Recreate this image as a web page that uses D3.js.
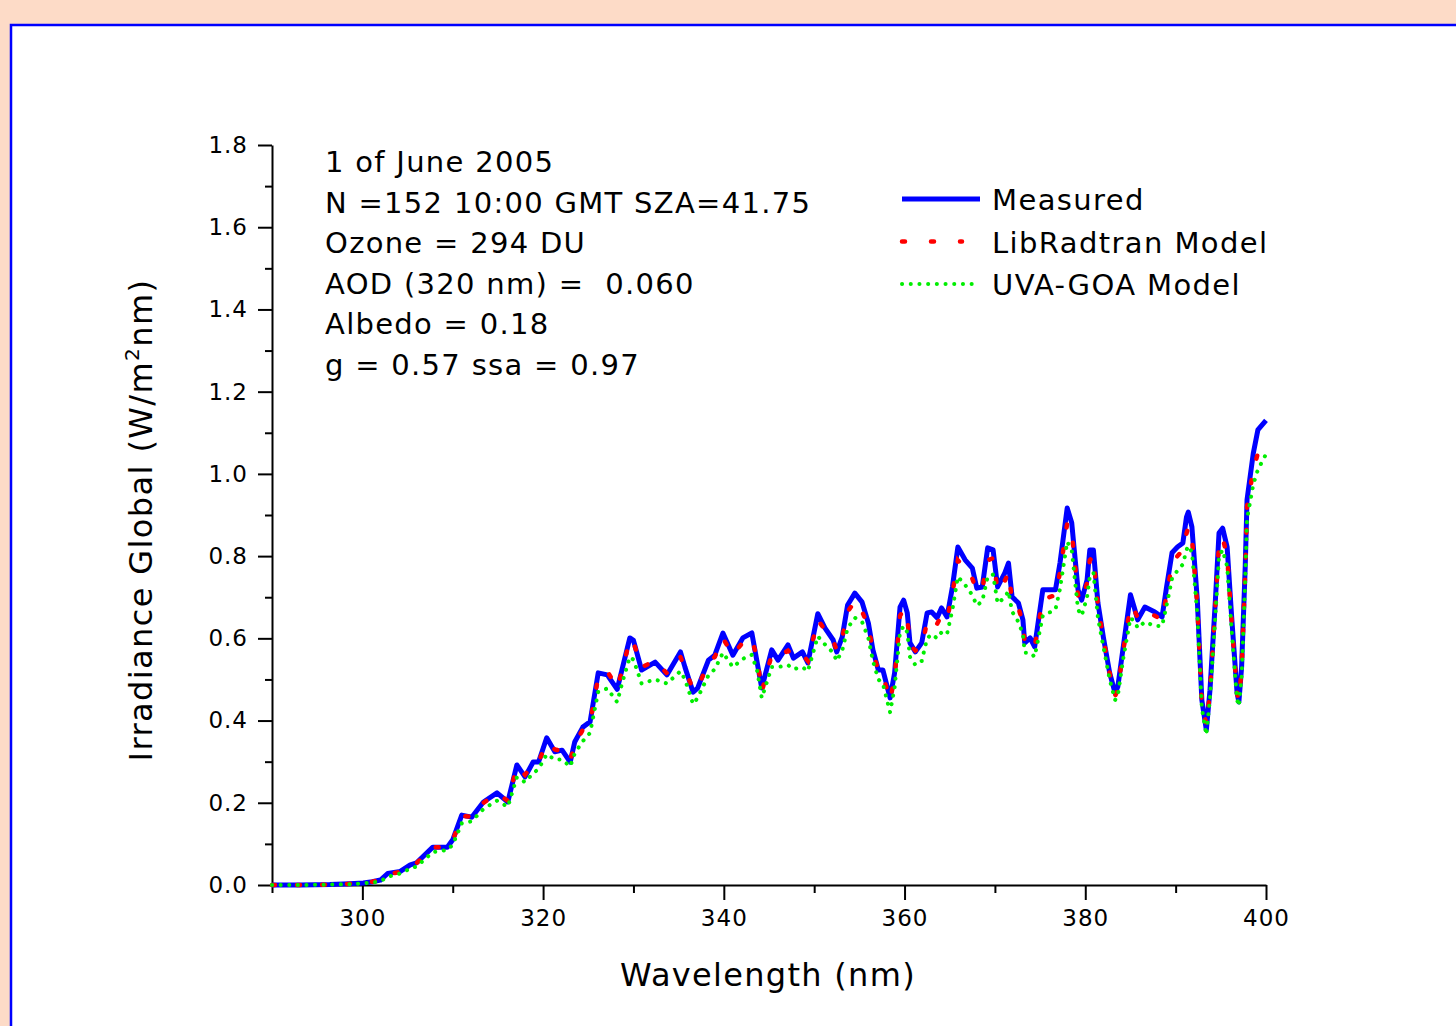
<!DOCTYPE html>
<html>
<head>
<meta charset="utf-8">
<script src="https://cdn.jsdelivr.net/npm/d3@7"></script>
<style>
  html, body { margin: 0; padding: 0; background: #fddbc7; }
  svg { display: block; }
  svg text { font-family: "DejaVu Sans", Verdana, sans-serif; fill: #000; }
  .axis path, .axis line { stroke: #000; stroke-width: 2; }
  .axis text { font-family: "DejaVu Sans", Verdana, sans-serif; font-size: 23px; letter-spacing: 1px; }
</style>
</head>
<body>
<div class="chart"></div>
<script>
// ============================================================================
// Data
// ============================================================================

var wavelength = [
  290.0, 293.1, 296.4, 298.6, 300.1, 301.1, 302.0, 302.8, 304.2, 305.3,
  306.0, 307.8, 309.4, 310.0, 311.0, 312.1, 313.4, 314.9, 316.1, 317.1,
  318.0, 318.9, 319.5, 320.4, 321.3, 322.1, 323.0, 323.5, 324.4, 325.2,
  326.1, 327.1, 328.2, 328.8, 329.6, 330.0, 330.9, 332.4, 333.7, 335.2,
  335.7, 336.6, 337.1, 338.3, 339.0, 339.9, 341.0, 342.1, 343.1, 343.7,
  344.2, 345.3, 346.0, 347.1, 347.7, 348.7, 349.3, 350.4, 351.2, 352.1,
  352.5, 353.1, 353.7, 354.5, 355.3, 356.0, 356.5, 357.1, 357.6, 358.4,
  358.9, 359.5, 359.9, 360.3, 360.6, 361.2, 361.9, 362.5, 363.0, 363.6,
  364.1, 364.7, 365.3, 365.9, 366.7, 367.5, 368.0, 368.6, 369.2, 369.8,
  370.3, 371.1, 371.5, 371.9, 372.6, 373.1, 373.3, 373.9, 374.4, 375.3,
  376.7, 377.2, 378.0, 378.5, 379.2, 379.6, 380.2, 380.5, 380.9, 381.4,
  382.0, 382.7, 383.3, 383.6, 384.2, 385.0, 385.5, 385.8, 386.6, 387.7,
  388.5, 389.0, 389.6, 390.2, 390.8, 391.2, 391.4, 391.8, 392.4, 392.9,
  393.4, 393.8, 394.4, 394.8, 395.2, 395.7, 396.2, 396.8, 397.0, 397.3,
  397.7, 397.9, 398.6, 399.1, 400.0
];

var measured = [
  0.000, 0.000, 0.001, 0.003, 0.005, 0.008, 0.012, 0.028, 0.033, 0.049,
  0.054, 0.092, 0.092, 0.110, 0.170, 0.165, 0.202, 0.224, 0.202, 0.292,
  0.263, 0.299, 0.299, 0.358, 0.324, 0.328, 0.299, 0.348, 0.384, 0.397,
  0.516, 0.511, 0.476, 0.530, 0.601, 0.595, 0.523, 0.542, 0.511, 0.567,
  0.530, 0.469, 0.479, 0.547, 0.559, 0.613, 0.559, 0.601, 0.613, 0.540,
  0.479, 0.572, 0.547, 0.584, 0.552, 0.567, 0.540, 0.660, 0.625, 0.596,
  0.567, 0.603, 0.681, 0.710, 0.688, 0.637, 0.572, 0.523, 0.523, 0.455,
  0.516, 0.676, 0.693, 0.662, 0.589, 0.567, 0.589, 0.662, 0.664, 0.650,
  0.674, 0.652, 0.725, 0.822, 0.791, 0.771, 0.722, 0.725, 0.820, 0.815,
  0.725, 0.759, 0.783, 0.701, 0.686, 0.645, 0.589, 0.601, 0.579, 0.718,
  0.718, 0.783, 0.917, 0.881, 0.718, 0.693, 0.742, 0.815, 0.815, 0.686,
  0.603, 0.516, 0.467, 0.482, 0.579, 0.706, 0.669, 0.645, 0.676, 0.664,
  0.652, 0.725, 0.808, 0.822, 0.832, 0.895, 0.907, 0.871, 0.693, 0.450,
  0.377, 0.474, 0.693, 0.856, 0.868, 0.822, 0.652, 0.467, 0.445, 0.530,
  0.774, 0.937, 1.051, 1.107, 1.130
];

var libRadtran = [
  0.000, 0.000, 0.001, 0.003, 0.005, 0.008, 0.013, 0.026, 0.032, 0.048,
  0.053, 0.092, 0.092, 0.108, 0.168, 0.166, 0.200, 0.222, 0.205, 0.288,
  0.268, 0.294, 0.300, 0.345, 0.330, 0.325, 0.302, 0.342, 0.378, 0.395,
  0.505, 0.520, 0.480, 0.525, 0.598, 0.590, 0.530, 0.545, 0.515, 0.555,
  0.525, 0.475, 0.480, 0.540, 0.555, 0.600, 0.560, 0.590, 0.600, 0.550,
  0.470, 0.560, 0.555, 0.570, 0.555, 0.560, 0.545, 0.645, 0.620, 0.595,
  0.570, 0.600, 0.665, 0.690, 0.665, 0.630, 0.570, 0.520, 0.510, 0.450,
  0.505, 0.655, 0.670, 0.650, 0.585, 0.570, 0.580, 0.640, 0.650, 0.635,
  0.655, 0.645, 0.710, 0.790, 0.770, 0.745, 0.715, 0.720, 0.790, 0.795,
  0.715, 0.740, 0.760, 0.695, 0.675, 0.635, 0.590, 0.595, 0.580, 0.695,
  0.705, 0.760, 0.880, 0.860, 0.705, 0.690, 0.735, 0.790, 0.800, 0.680,
  0.600, 0.515, 0.460, 0.475, 0.570, 0.680, 0.665, 0.650, 0.665, 0.655,
  0.645, 0.705, 0.780, 0.800, 0.815, 0.855, 0.870, 0.845, 0.680, 0.440,
  0.390, 0.470, 0.680, 0.830, 0.845, 0.800, 0.640, 0.465, 0.450, 0.525,
  0.760, 0.920, 1.010, 1.050, 1.080
];

var uvaGoa = [
  0.000, 0.000, 0.001, 0.002, 0.004, 0.006, 0.009, 0.020, 0.028, 0.040,
  0.045, 0.080, 0.085, 0.098, 0.150, 0.155, 0.185, 0.205, 0.190, 0.262,
  0.250, 0.272, 0.282, 0.318, 0.305, 0.305, 0.288, 0.320, 0.350, 0.370,
  0.470, 0.478, 0.445, 0.495, 0.555, 0.548, 0.490, 0.500, 0.490, 0.520,
  0.500, 0.440, 0.455, 0.510, 0.525, 0.565, 0.530, 0.550, 0.560, 0.520,
  0.455, 0.530, 0.530, 0.535, 0.525, 0.530, 0.520, 0.605, 0.585, 0.565,
  0.545, 0.570, 0.625, 0.650, 0.640, 0.600, 0.545, 0.500, 0.490, 0.420,
  0.480, 0.615, 0.630, 0.615, 0.555, 0.535, 0.545, 0.600, 0.610, 0.600,
  0.615, 0.610, 0.670, 0.750, 0.730, 0.705, 0.680, 0.690, 0.750, 0.755,
  0.685, 0.700, 0.715, 0.665, 0.640, 0.610, 0.565, 0.565, 0.555, 0.655,
  0.670, 0.720, 0.835, 0.815, 0.670, 0.655, 0.700, 0.750, 0.760, 0.650,
  0.580, 0.500, 0.450, 0.460, 0.550, 0.650, 0.640, 0.625, 0.640, 0.630,
  0.630, 0.680, 0.745, 0.765, 0.780, 0.815, 0.825, 0.810, 0.660, 0.430,
  0.365, 0.455, 0.655, 0.800, 0.815, 0.775, 0.620, 0.450, 0.435, 0.505,
  0.740, 0.890, 0.975, 1.010, 1.048
];

var xMajorTicks = [300, 320, 340, 360, 380, 400];
var xMinorTicks = [290, 310, 330, 350, 370, 390];
var yMajorTicks = [0.0, 0.2, 0.4, 0.6, 0.8, 1.0, 1.2, 1.4, 1.6, 1.8];
var yMinorTicks = [0.1, 0.3, 0.5, 0.7, 0.9, 1.1, 1.3, 1.5, 1.7];

var infoLines = [
  '1 of June 2005',
  'N =152 10:00 GMT SZA=41.75',
  'Ozone = 294 DU',
  'AOD (320 nm) =  0.060',
  'Albedo = 0.18',
  'g = 0.57 ssa = 0.97'
];

var seriesNames = ['Measured', 'LibRadtran Model', 'UVA-GOA Model'];

// ============================================================================
// Create SVG
// ============================================================================

var svgWidth = 1456;
var svgHeight = 1026;
var FONT = '"DejaVu Sans", Verdana, sans-serif';

var svg = d3.select('.chart')
  .append('svg')
  .attr('width', svgWidth)
  .attr('height', svgHeight);

// peach page + white framed panel
svg.append('rect')
  .attr('width', svgWidth)
  .attr('height', svgHeight)
  .attr('fill', '#fddbc7');

svg.append('rect')
  .attr('x', 11)
  .attr('y', 25)
  .attr('width', 1600)
  .attr('height', 1200)
  .attr('fill', '#fff')
  .attr('stroke', '#0000ff')
  .attr('stroke-width', 2.5);

// ============================================================================
// Scales and axes
// ============================================================================

var xScale = d3.scaleLinear().domain([290, 400]).range([272, 1266]);
var yScale = d3.scaleLinear().domain([0, 1.8]).range([885, 145]);

svg.append('g')
  .attr('class', 'axis')
  .attr('transform', 'translate(0, 885)')
  .call(d3.axisBottom(xScale).tickValues(xMinorTicks).tickSize(8).tickFormat(''))
  .call(g => g.select('.domain').remove());

svg.append('g')
  .attr('class', 'axis')
  .attr('transform', 'translate(0, 885)')
  .call(d3.axisBottom(xScale).tickValues(xMajorTicks).tickSize(15).tickSizeOuter(0).tickPadding(10)
    .tickFormat(d3.format('d')));

svg.append('g')
  .attr('class', 'axis')
  .attr('transform', 'translate(272, 0)')
  .call(d3.axisLeft(yScale).tickValues(yMinorTicks).tickSize(7).tickFormat(''))
  .call(g => g.select('.domain').remove());

svg.append('g')
  .attr('class', 'axis')
  .attr('transform', 'translate(272, 0)')
  .call(d3.axisLeft(yScale).tickValues(yMajorTicks).tickSize(14).tickSizeOuter(0).tickPadding(10)
    .tickFormat(d3.format('.1f')));

// d3 puts font-family="sans-serif" on axis groups; override it
svg.selectAll('.axis').attr('font-family', FONT);

// axis titles
svg.append('text')
  .attr('x', 768)
  .attr('y', 986)
  .attr('text-anchor', 'middle')
  .style('font-family', FONT)
  .style('font-size', '32px')
  .style('letter-spacing', '1.3px')
  .text('Wavelength (nm)');

var yTitle = svg.append('text')
  .attr('transform', 'translate(152, 520) rotate(-90)')
  .attr('text-anchor', 'middle')
  .style('font-family', FONT)
  .style('font-size', '32px')
  .style('letter-spacing', '1.4px');
yTitle.append('tspan').text('Irradiance Global (W/m');
yTitle.append('tspan').attr('dy', -13).style('font-size', '20px').text('2');
yTitle.append('tspan').attr('dy', 13).text('nm)');

// ============================================================================
// Lines
// ============================================================================

function makeLine(values) {
  return d3.line()
    .x((d, i) => xScale(wavelength[i]))
    .y(d => yScale(d))(values);
}

svg.append('path')
  .attr('d', makeLine(measured))
  .attr('fill', 'none')
  .attr('stroke', '#0000ff')
  .attr('stroke-width', 5)
  .attr('stroke-linejoin', 'round');

svg.append('path')
  .attr('d', makeLine(libRadtran))
  .attr('fill', 'none')
  .attr('stroke', '#ff0000')
  .attr('stroke-width', 4.5)
  .attr('stroke-linecap', 'round')
  .attr('stroke-dasharray', '3 22');

svg.append('path')
  .attr('d', makeLine(uvaGoa))
  .attr('fill', 'none')
  .attr('stroke', '#00ee00')
  .attr('stroke-width', 4)
  .attr('stroke-linecap', 'round')
  .attr('stroke-dasharray', '0.1 8.5');

// ============================================================================
// Annotation and legend
// ============================================================================

svg.append('g')
  .selectAll('text')
  .data(infoLines)
  .enter()
    .append('text')
    .attr('x', 325)
    .attr('y', (d, i) => 172 + i * 40.6)
    .attr('xml:space', 'preserve')
    .style('font-family', FONT)
    .style('font-size', '29px')
    .style('letter-spacing', '1.3px')
    .style('white-space', 'pre')
    .text(d => d);

var legendStyles = [
  { stroke: '#0000ff', dash: null, cap: 'butt', x2: 980, w: 5 },
  { stroke: '#ff0000', dash: '3 26', cap: 'round', x2: 962, w: 4.5 },
  { stroke: '#00ee00', dash: '0.1 8.6', cap: 'round', x2: 980, w: 4 }
];

var legend = svg.append('g');

seriesNames.forEach(function(name, i) {
  var y = 199 + i * 42.5;
  var s = legendStyles[i];
  legend.append('line')
    .attr('x1', 902)
    .attr('x2', s.x2)
    .attr('y1', y)
    .attr('y2', y)
    .attr('stroke', s.stroke)
    .attr('stroke-width', s.w)
    .attr('stroke-linecap', s.cap)
    .attr('stroke-dasharray', s.dash);
  legend.append('text')
    .attr('x', 992)
    .attr('y', y + 11)
    .style('font-family', FONT)
    .style('font-size', '29px')
    .style('letter-spacing', '1.4px')
    .text(name);
});
</script>
</body>
</html>
